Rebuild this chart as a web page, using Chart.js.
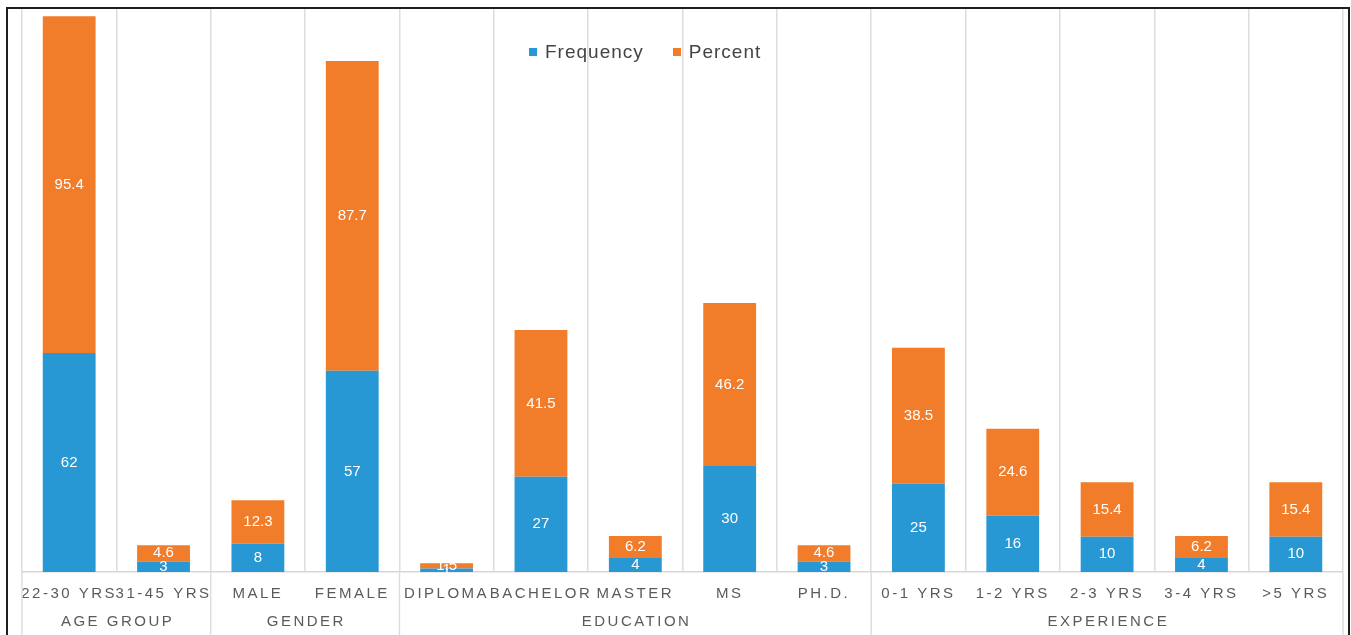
<!DOCTYPE html>
<html>
<head>
<meta charset="utf-8">
<script src="https://cdn.jsdelivr.net/npm/chart.js@4/dist/chart.umd.min.js"></script>
<style>
  html, body { margin: 0; padding: 0; background: #fff; }
  #wrap { position: relative; width: 1351px; height: 635px; overflow: hidden; }
  #legend {
    position: absolute; top: 41px; left: 529px; display: flex;
    font: 19px "Liberation Sans", Arial, sans-serif; color: #444; letter-spacing: 1px;
  }
  #legend .item { display: flex; align-items: center; margin-right: 29px; }
  #legend .sw { width: 8px; height: 8px; margin-right: 8px; }
</style>
</head>
<body>
<div id="wrap">
  <canvas id="c" width="1351" height="635"></canvas>
  <div id="legend"></div>
</div>
<script>
// Survey respondent profile: counts and shares per category
const categories = ['22-30 YRS', '31-45 YRS', 'MALE', 'FEMALE', 'DIPLOMA', 'BACHELOR', 'MASTER', 'MS', 'PH.D.',
                    '0-1 YRS', '1-2 YRS', '2-3 YRS', '3-4 YRS', '>5 YRS'];
const groupNames = ['AGE GROUP', 'GENDER', 'EDUCATION', 'EXPERIENCE'];
const groupSizes = [2, 2, 5, 5];
const frequency = [62, 3, 8, 57, 1, 27, 4, 30, 3, 25, 16, 10, 4, 10];
const percent = [95.4, 4.6, 12.3, 87.7, 1.5, 41.5, 6.2, 46.2, 4.6, 38.5, 24.6, 15.4, 6.2, 15.4];

const FONT = '"Liberation Sans", Arial, sans-serif';
const BLUE = '#2898d5';
const ORANGE = '#f17c2a';
const GRID = '#e0dcdc';
const TEXT = '#5a5a5a';

const datasets = [
  { label: 'Frequency', data: frequency, backgroundColor: BLUE },
  { label: 'Percent', data: percent, backgroundColor: ORANGE }
];

// Legend as page text
const legendEl = document.getElementById('legend');
datasets.forEach(ds => {
  const item = document.createElement('div');
  item.className = 'item';
  const sw = document.createElement('span');
  sw.className = 'sw';
  sw.style.background = ds.backgroundColor;
  const txt = document.createElement('span');
  txt.textContent = ds.label;
  item.appendChild(sw);
  item.appendChild(txt);
  legendEl.appendChild(item);
});

const extras = {
  id: 'extras',
  beforeDraw(chart) {
    // spaced lettering for the category axis labels
    chart.ctx.letterSpacing = '2.5px';
  },
  beforeDatasetsDraw(chart) {
    chart.ctx.letterSpacing = '0px';
  },
  afterDatasetsDraw(chart) {
    const ctx = chart.ctx;
    ctx.save();
    ctx.letterSpacing = '0px';
    ctx.font = '15px ' + FONT;
    ctx.fillStyle = '#ffffff';
    ctx.textAlign = 'center';
    ctx.textBaseline = 'middle';
    chart.data.datasets.forEach((ds, di) => {
      const meta = chart.getDatasetMeta(di);
      meta.data.forEach((bar, i) => {
        const p = bar.getProps(['x', 'y', 'base'], true);
        ctx.fillText(String(ds.data[i]), p.x, (p.y + p.base) / 2);
      });
    });
    ctx.restore();
  },
  afterDraw(chart) {
    const ctx = chart.ctx;
    const xs = chart.scales.x;
    const area = chart.chartArea;
    const H = chart.height;
    const boundary = (i) => {
      if (i <= 0) return area.left;
      if (i >= categories.length) return area.right;
      return (xs.getPixelForValue(i - 1) + xs.getPixelForValue(i)) / 2;
    };
    ctx.save();
    // group separators running through the label rows
    ctx.strokeStyle = GRID;
    ctx.lineWidth = 1.5;
    let idx = 0;
    const edges = [0];
    groupSizes.forEach(n => { idx += n; edges.push(idx); });
    edges.forEach(e => {
      const x = boundary(e);
      ctx.beginPath();
      ctx.moveTo(x, area.bottom);
      ctx.lineTo(x, H);
      ctx.stroke();
    });
    // group labels
    ctx.letterSpacing = '2.5px';
    ctx.font = '15px ' + FONT;
    ctx.fillStyle = TEXT;
    ctx.textAlign = 'center';
    ctx.textBaseline = 'middle';
    groupNames.forEach((g, k) => {
      const cx = (boundary(edges[k]) + boundary(edges[k + 1])) / 2;
      ctx.fillText(g, cx + 1.25, 622);
    });
    ctx.letterSpacing = '0px';
    // outer frame
    ctx.strokeStyle = '#1e1e1e';
    ctx.lineWidth = 2;
    ctx.strokeRect(7, 8, 1342, 700);
    ctx.restore();
  }
};

new Chart(document.getElementById('c'), {
  type: 'bar',
  data: { labels: categories, datasets: datasets },
  options: {
    responsive: false,
    animation: false,
    devicePixelRatio: 1,
    barPercentage: 0.56,
    categoryPercentage: 1,
    layout: { padding: { left: 22, right: 8, top: 7, bottom: 19 } },
    plugins: { legend: { display: false }, tooltip: { enabled: false } },
    scales: {
      x: {
        stacked: true,
        offset: true,
        grid: { offset: true, color: GRID, lineWidth: 1.5, drawTicks: false },
        border: { color: '#d9d6d6', width: 1.5 },
        ticks: {
          autoSkip: false, maxRotation: 0, minRotation: 0, padding: 13,
          color: TEXT, font: { family: FONT, size: 15 }
        }
      },
      y: { stacked: true, display: false, min: 0, max: 160 }
    }
  },
  plugins: [extras]
});
</script>
</body>
</html>
